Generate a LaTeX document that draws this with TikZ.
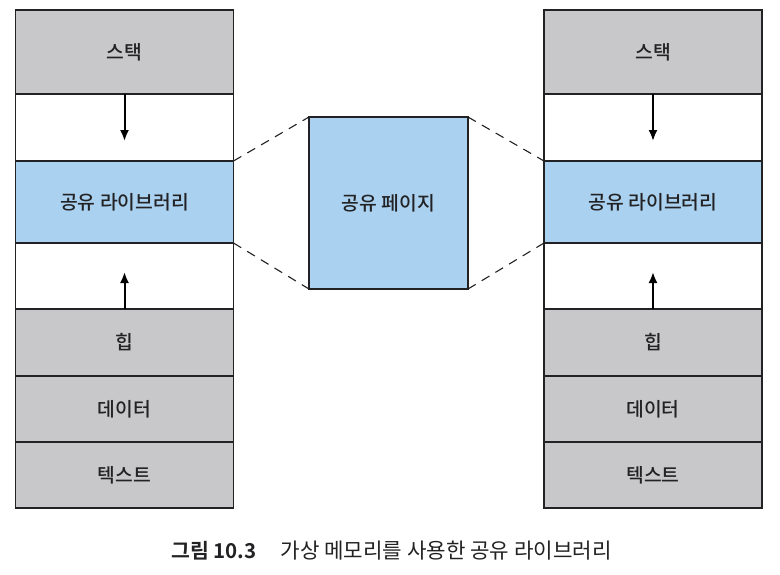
\documentclass[tikz,border=0pt]{standalone}
\usepackage{fontspec}
\setmainfont{Noto Sans CJK KR Medium}
\newfontfamily\capbold{Noto Sans CJK KR Bold}
\newfontfamily\capreg{Noto Sans CJK KR}
\usetikzlibrary{arrows.meta}
\definecolor{segray}{RGB}{200,200,203}
\definecolor{segblue}{RGB}{170,209,239}
\definecolor{inkc}{RGB}{34,34,36}
\begin{document}
\begin{tikzpicture}[x=1pt,y=-1pt,
  seg/.style={draw=inkc,line width=1.3pt,inner sep=0pt,outer sep=0pt,minimum width=218pt,text=inkc,font=\fontsize{19.3}{22}\selectfont},
  grayseg/.style={seg,fill=segray},
  blueseg/.style={seg,fill=segblue},
  whiteseg/.style={seg,fill=white},
  growarrow/.style={-{Latex[length=11pt,width=9pt]},line width=2pt,draw=black},
  link/.style={dash pattern=on 9pt off 7pt,line width=1.1pt,draw=inkc}]
\useasboundingbox (0,0) rectangle (780,574);
\fill[white] (0,0) rectangle (780,574);
\foreach \p/\x in {L/124.5,R/653}{
  \node[grayseg,minimum height=84pt] (\p stack) at (\x,52) {스택};
  \node[whiteseg,minimum height=67pt] (\p gapa) at (\x,127.5) {};
  \node[blueseg,minimum height=82pt] (\p lib) at (\x,202) {공유 라이브러리};
  \node[whiteseg,minimum height=66pt] (\p gapb) at (\x,276) {};
  \node[grayseg,minimum height=67pt] (\p heap) at (\x,342.5) {힙};
  \node[grayseg,minimum height=66pt] (\p data) at (\x,409) {데이터};
  \node[grayseg,minimum height=66pt] (\p text) at (\x,475) {텍스트};
  \coordinate (\p downend) at (\x,141);
  \coordinate (\p upend) at (\x,272);
  \draw[growarrow] (\p stack.south) -- (\p downend);
  \draw[growarrow] (\p heap.north) -- (\p upend);
}
\node[seg,fill=segblue,minimum width=159pt,minimum height=172pt] (page) at (388.5,203) {공유 페이지};
\draw[link] (Llib.north east) -- (page.north west);
\draw[link] (Llib.south east) -- (page.south west);
\draw[link] (page.north east) -- (Rlib.north west);
\draw[link] (page.south east) -- (Rlib.south west);
\node[anchor=west,inner sep=0pt,text=inkc,font=\fontsize{20.5}{24}\selectfont] (caption) at (171,551) {{\capbold 그림 10.3}\hspace{24pt}{\capreg\fontsize{21.2}{24}\selectfont 가상 메모리를 사용한 공유 라이브러리}};
\end{tikzpicture}
\end{document}
